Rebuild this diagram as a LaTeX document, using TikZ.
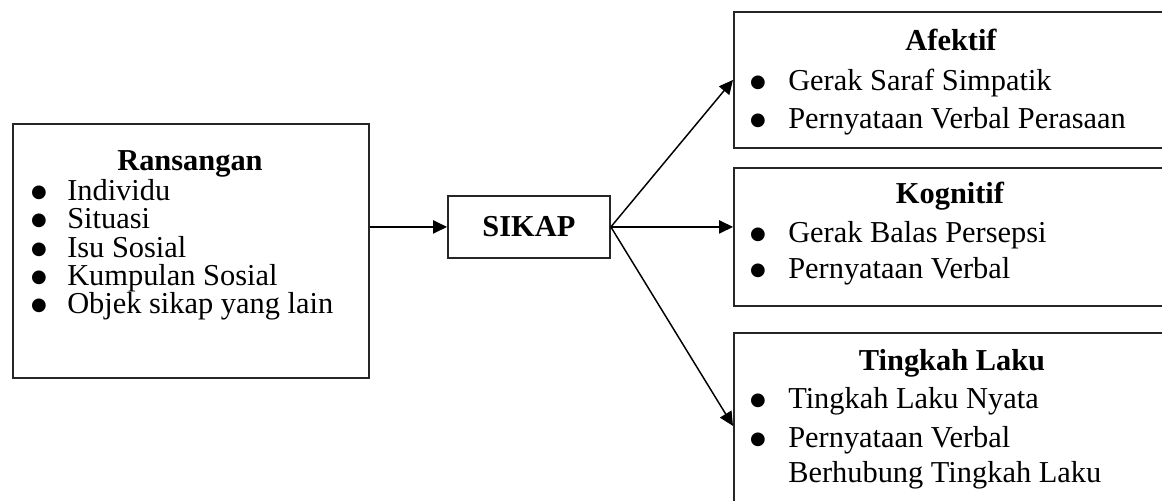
\documentclass[tikz,border=0pt]{standalone}
\usepackage{fontspec}
\setmainfont{Liberation Serif}
\newfontfamily\dotfont{DejaVu Sans}
\usetikzlibrary{arrows.meta}

\tikzset{
  box/.style={draw=black!85, line width=1.4pt, rectangle, anchor=north west, inner sep=0pt},
  head/.style={anchor=base, inner sep=0pt, font=\fontsize{22.8}{27}\selectfont\bfseries},
  bul/.style={anchor=north, inner sep=0pt, font=\dotfont\fontsize{13.5}{15}\selectfont},
  item/.style={anchor=base west, inner sep=0pt, font=\fontsize{22.8}{27}\selectfont},
  link/.style={draw, line width=1.1pt, -{Triangle[length=10.5pt,width=10pt]}}
}

\begin{document}
\begin{tikzpicture}[x=0.75pt, y=-0.75pt]

      \useasboundingbox (0,0) rectangle (1162,500);
      \clip (0,0) rectangle (1162,500);

      % boxes
      \node[box, minimum width=267pt, minimum height=190.5pt] (rans) at (12,123) {};
      \node[box, minimum width=121.5pt, minimum height=46.5pt,
            font=\fontsize{22.8}{27}\selectfont\bfseries] (sikap) at (447,195) {SIKAP};
      \node[box, minimum width=331.5pt, minimum height=102pt] (afektif) at (733,11) {};
      \node[box, minimum width=331.5pt, minimum height=103.5pt] (kognitif) at (733,167) {};
      \node[box, minimum width=331.5pt, minimum height=139.5pt] (laku) at (733,332) {};

      % Ransangan (bullets are placed by their top edge)
      \node[head] (rans-t) at (190,170) {Ransangan};
      \begin{scope}[every node/.style={bul}]
        \node (rans-b1) at (39,186) {●};
        \node (rans-b2) at (39,214) {●};
        \node (rans-b3) at (39,243) {●};
        \node (rans-b4) at (39,271) {●};
        \node (rans-b5) at (39,299) {●};
      \end{scope}
      \begin{scope}[every node/.style={item}]
        \node (rans-1) at (67,200) {Individu};
        \node (rans-2) at (67,228) {Situasi};
        \node (rans-3) at (67,257) {Isu Sosial};
        \node (rans-4) at (67,285) {Kumpulan Sosial};
        \node (rans-5) at (67,313) {Objek sikap yang lain};
      \end{scope}

      % Afektif
      \node[head] (afektif-t) at (951,50) {Afektif};
      \node[bul] (afektif-b1) at (758,76) {●};
      \node[bul] (afektif-b2) at (758,114) {●};
      \node[item] (afektif-1) at (788,90) {Gerak Saraf Simpatik};
      \node[item] (afektif-2) at (788,128) {Pernyataan Verbal Perasaan};

      % Kognitif
      \node[head] (kognitif-t) at (950,203) {Kognitif};
      \node[bul] (kognitif-b1) at (758,228) {●};
      \node[bul] (kognitif-b2) at (758,264) {●};
      \node[item] (kognitif-1) at (788,242) {Gerak Balas Persepsi};
      \node[item] (kognitif-2) at (788,278) {Pernyataan Verbal};

      % Tingkah Laku
      \node[head] (laku-t) at (952,370) {Tingkah Laku};
      \node[bul] (laku-b1) at (758,394) {●};
      \node[bul] (laku-b2) at (758,433) {●};
      \node[item] (laku-1) at (788,408) {Tingkah Laku Nyata};
      \node[item] (laku-2) at (788,447) {Pernyataan Verbal};
      \node[item] (laku-3) at (788,482) {Berhubung Tingkah Laku};

      % arrows
      \path[link] (rans.east |- sikap.west) -- (sikap.west);
      \path[link] (sikap.east) -- (afektif.west);
      \path[link] (sikap.east) -- (kognitif.west |- sikap.east);
      \path[link] (sikap.east) -- (laku.west);

    \end{tikzpicture}
\end{document}
